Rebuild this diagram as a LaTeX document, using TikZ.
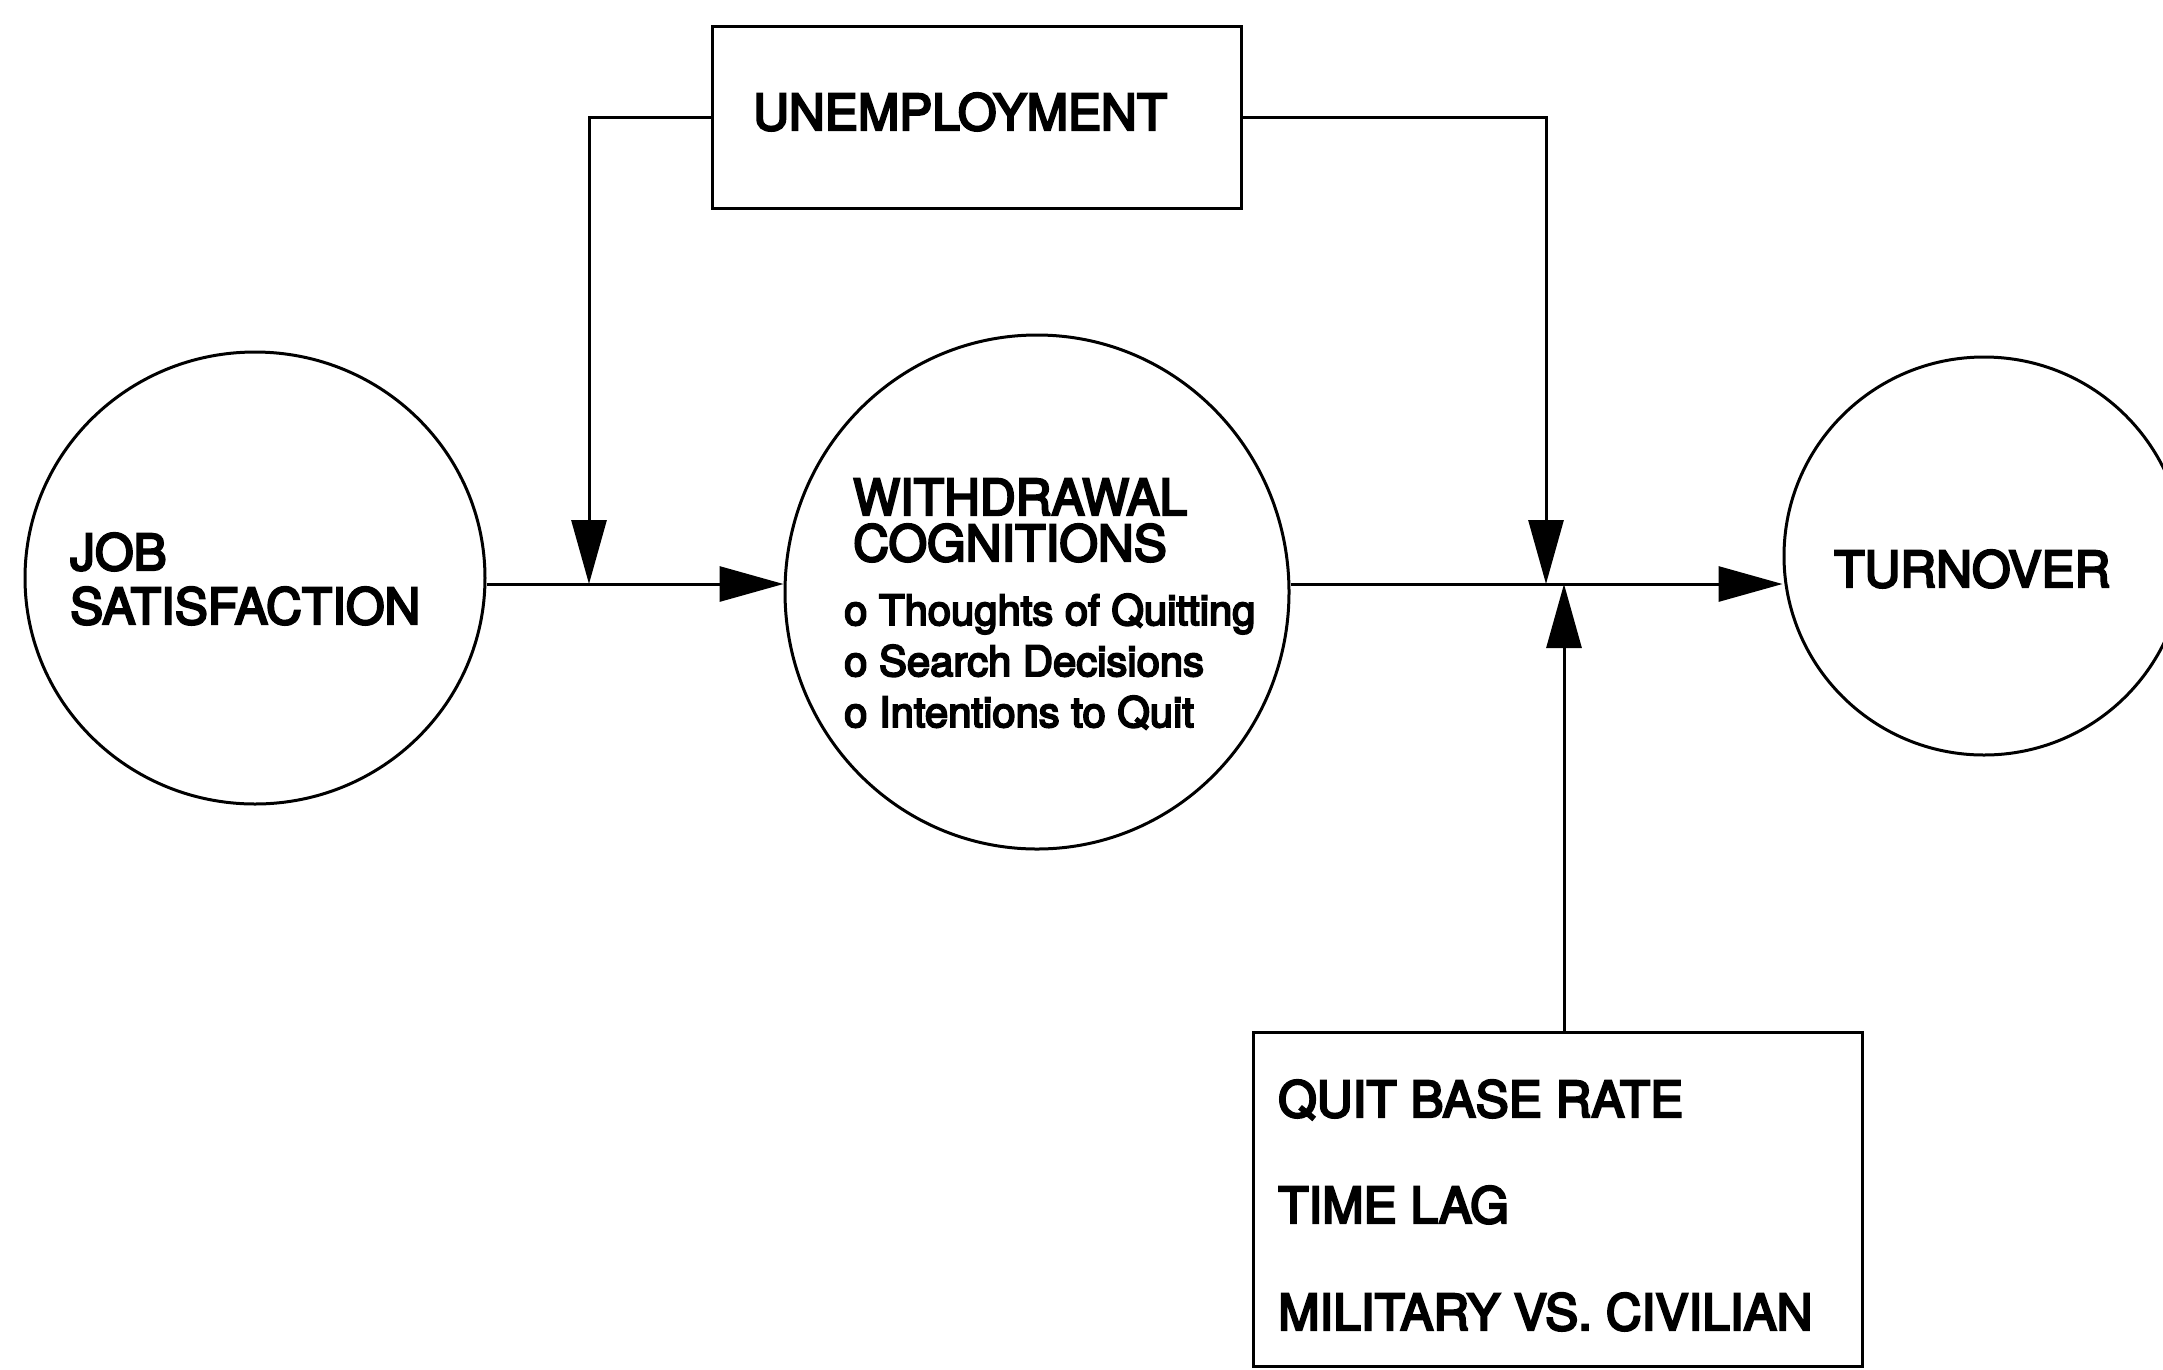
\documentclass[tikz,border=0pt]{standalone}
\usepackage{fontspec}
\newfontfamily\heavyfont{TeX Gyre Heros}[FakeBold=4.5]
\usetikzlibrary{arrows.meta,shapes.geometric}
\tikzset{
  ln/.style={line width=3pt, draw=black},
  arr/.style={ln, -{Triangle[length=64pt,width=35pt]}},
  bubble/.style={ln, ellipse, inner sep=0pt},
  frame/.style={ln, rectangle, inner sep=0pt},
  big/.style={anchor=base west, inner sep=0pt, font=\heavyfont\fontsize{49.6}{58}\selectfont},
  small/.style={anchor=base west, inner sep=0pt, font=\heavyfont\fontsize{41.8}{50}\selectfont},
}
\begin{document}
\begin{tikzpicture}[x=1pt, y=-1pt]
\useasboundingbox (0,0) rectangle (2163,1369);
\fill[white] (0,0) rectangle (2163,1369);

% shapes
\node[bubble, minimum width=460pt, minimum height=452pt] (js) at (255,578) {};
\node[bubble, minimum width=504pt, minimum height=514pt] (wc) at (1037,592) {};
\node[bubble, minimum width=400pt, minimum height=398pt] (tu) at (1984,556) {};
\node[frame, minimum width=529pt, minimum height=182pt] (un) at (976.5,117.5) {};
\node[frame, minimum width=609pt, minimum height=334pt] (qb) at (1557.5,1199) {};

% texts
\node[big] (t1) at (70,570) {JOB};
\node[big] (t2) at (70,624) {SATISFACTION};
\node[big] (t3) at (853,515) {WITHDRAWAL};
\node[big] (t4) at (853,561) {COGNITIONS};
\node[small] (t5) at (844,625) {o Thoughts of Quitting};
\node[small] (t6) at (844,676) {o Search Decisions};
\node[small] (t7) at (844,727) {o Intentions to Quit};
\node[big] (t8) at (1834,587) {TURNOVER};
\node[big] (t9) at (753,130) {UNEMPLOYMENT};
\node[big] (t10) at (1278,1117) {QUIT BASE RATE};
\node[big] (t11) at (1278,1223) {TIME LAG};
\node[big] (t12) at (1278,1330) {MILITARY VS. CIVILIAN};

% junctions on the main line
\coordinate (j1) at (589,584);
\coordinate (j2) at (1546,584);
\coordinate (j3) at (1564,584);

% connectors
\draw[arr] (js.east |- j1) -- (wc.west |- j1);
\draw[arr] (wc.east |- j2) -- (tu.west |- j2);
\draw[arr] (un.west) -| (j1);
\draw[arr] (un.east) -| (j2);
\draw[arr] (qb.north -| j3) -- (j3);
\end{tikzpicture}
\end{document}
